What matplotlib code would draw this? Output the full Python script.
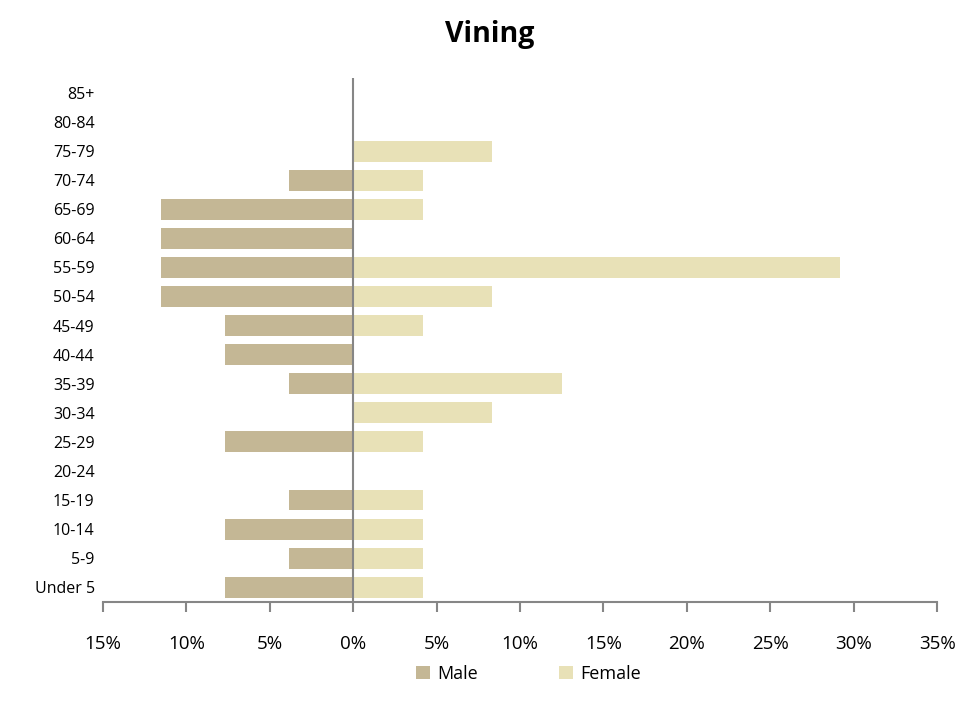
import matplotlib
matplotlib.use("Agg")
import matplotlib.pyplot as plt
from matplotlib.ticker import FuncFormatter
import numpy as np

plt.rcParams['font.family'] = ['Open Sans', 'DejaVu Sans']

age_groups = ["Under 5", "5-9", "10-14", "15-19", "20-24", "25-29", "30-34", "35-39",
              "40-44", "45-49", "50-54", "55-59", "60-64", "65-69", "70-74", "75-79",
              "80-84", "85+"]
male_pct = [7.69, 3.85, 7.69, 3.85, 0, 7.69, 0, 3.85, 7.69, 7.69, 11.54, 11.54,
            11.54, 11.54, 3.85, 0, 0, 0]
female_pct = [4.17, 4.17, 4.17, 4.17, 0, 4.17, 8.33, 12.5, 0, 4.17, 8.33, 29.17,
              0, 4.17, 4.17, 8.33, 0, 0]
x_ticks = [-15, -10, -5, 0, 5, 10, 15, 20, 25, 30, 35]

male_color = "#C4B795"
female_color = "#E8E1B7"
axis_gray = "#868686"

fig = plt.figure(figsize=(9.79, 7.13), dpi=100)
ax = fig.add_axes([0.1052, 0.156, 0.852, 0.734])

y = np.arange(len(age_groups))
ax.barh(y, -np.array(male_pct), height=0.72, color=male_color, label="Male")
ax.barh(y, female_pct, height=0.72, color=female_color, label="Female")

ax.set_xlim(-15, 35)
ax.set_ylim(-0.5, len(age_groups) - 0.5)
ax.set_xticks(x_ticks)
ax.xaxis.set_major_formatter(FuncFormatter(lambda v, p: f"{abs(int(round(v)))}%"))
ax.set_yticks(y)
ax.set_yticklabels(age_groups)

for s in ["top", "right", "left"]:
    ax.spines[s].set_visible(False)
ax.spines["bottom"].set_color(axis_gray)
ax.spines["bottom"].set_linewidth(1.5)
ax.axvline(0, color=axis_gray, linewidth=1.5, zorder=3)

ax.tick_params(axis="x", direction="out", length=7, width=1.5, color=axis_gray,
               labelsize=13.5, pad=17)
ax.tick_params(axis="y", length=0, labelsize=11.5, pad=6)

fig.suptitle("Vining", fontsize=20.5, fontweight="bold", y=0.972)

ax.legend(loc="upper center", bbox_to_anchor=(0.51, -0.09), ncol=2, frameon=False,
          fontsize=13, handlelength=0.75, handleheight=0.75, columnspacing=4.5,
          handletextpad=0.4)

fig.savefig("out.png", dpi=100)
